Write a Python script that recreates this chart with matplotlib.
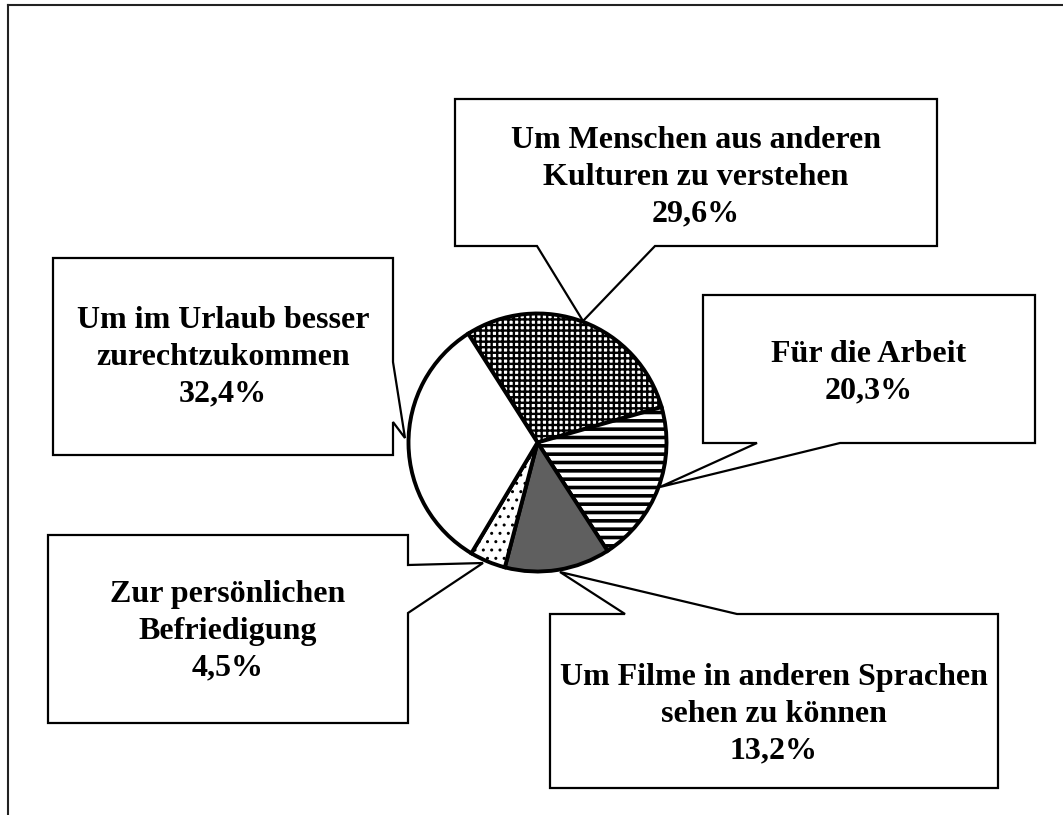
import matplotlib.pyplot as plt
from matplotlib.patches import Polygon

# chart data
names = [
    ["Um Menschen aus anderen", "Kulturen zu verstehen"],
    ["Für die Arbeit"],
    ["Um Filme in anderen Sprachen", "sehen zu können"],
    ["Zur persönlichen", "Befriedigung"],
    ["Um im Urlaub besser", "zurechtzukommen"],
]
values = [29.6, 20.3, 13.2, 4.5, 32.4]
faces = ["white", "white", "#5f5f5f", "white", "white"]
hatches = ["+++", "--", None, "..", None]

# layout in pixels (y measured from the top of the image)
W, H = 1063, 815
pie_center = (537.5, 442.5)
pie_radius = 129
# box: left, top, right, bottom ; pointer: side, start, end, tip
boxes = [
    ((455, 99, 937, 246), ("bottom", 537, 655, (583, 321))),
    ((703, 295, 1035, 443), ("bottom", 757, 840, (660, 487))),
    ((550, 614, 998, 788), ("top", 625, 737, (560, 572))),
    ((48, 535, 408, 723), ("right", 565, 613, (483, 563))),
    ((53, 258, 393, 455), ("right", 362, 422, (405, 438))),
]
first_baseline = [148, 362, 685, 602, 328]
line_step = 36.8


def callout(box, ptr):
    l, t, r, b = box
    side, p0, p1, tip = ptr
    if side == "bottom":
        pts = [(l, t), (r, t), (r, b), (p1, b), tip, (p0, b), (l, b)]
    elif side == "top":
        pts = [(l, t), (p0, t), tip, (p1, t), (r, t), (r, b), (l, b)]
    else:
        pts = [(l, t), (r, t), (r, p0), tip, (r, p1), (r, b), (l, b)]
    return [(x, H - y) for x, y in pts]


fig = plt.figure(figsize=(W / 100, H / 100), dpi=100)
ax = fig.add_axes([0, 0, 1, 1])

# callout boxes behind the pie
for box, ptr in boxes:
    ax.add_patch(Polygon(callout(box, ptr), closed=True, facecolor="white",
                         edgecolor="black", linewidth=1.6, zorder=1))

wedges, _ = ax.pie(values, colors=faces, hatch=hatches, startangle=122.5,
                   counterclock=False, radius=pie_radius,
                   center=(pie_center[0], H - pie_center[1]),
                   wedgeprops=dict(edgecolor="black", linewidth=2.8))
hatch_lw = {"+++": 1.7, "--": 2.6, "..": 1.0}
for w, h in zip(wedges, hatches):
    w.set_zorder(3)
    if h and hasattr(w, "set_hatch_linewidth"):
        w.set_hatch_linewidth(hatch_lw[h])
plt.rcParams["hatch.linewidth"] = 1.7

# labels
for i, (lines, v) in enumerate(zip(names, values)):
    l, t, r, b = boxes[i][0]
    cx = (l + r) / 2
    txt = lines + [f"{v:.1f}%".replace(".", ",")]
    for k, s in enumerate(txt):
        ax.text(cx, H - (first_baseline[i] + k * line_step), s, ha="center",
                va="baseline", fontsize=23, fontweight="bold",
                family="Liberation Serif", zorder=4)

# outer frame (top and left only)
ax.plot([8, W], [H - 5, H - 5], color="#222222", lw=1.5, zorder=5)
ax.plot([8, 8], [0, H - 5], color="#222222", lw=1.5, zorder=5)

ax.set_xlim(0, W)
ax.set_ylim(0, H)
ax.set_aspect("auto")
ax.axis("off")
fig.savefig("out.png", dpi=100)
